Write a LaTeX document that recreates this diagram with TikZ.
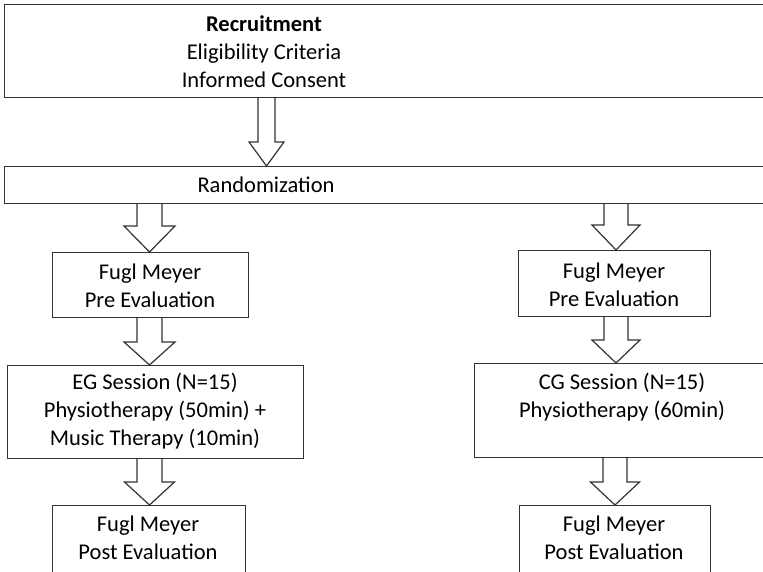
\documentclass[tikz,border=0pt]{standalone}
\usepackage{fontspec}
\setmainfont{Carlito}
\usetikzlibrary{calc}
\tikzset{
  box/.style={draw=black!80, line width=1.2pt, inner sep=0pt, anchor=north west},
  txt/.style={align=center, font=\fontsize{22.5}{28}\selectfont, inner sep=0pt, text=black},
  blockline/.style={draw=black!80, line width=1.2pt, fill=white, line join=miter}
}
% start coord, tip coord, shaft half width, head half width, head length
\newcommand{\blockarr}[5]{%
  \draw[blockline] let \p1=(#1), \p2=(#2) in
    (\x1-#3pt,\y1) -- (\x1-#3pt,\y2+#5pt) -- (\x1-#4pt,\y2+#5pt) -- (\x1,\y2)
    -- (\x1+#4pt,\y2+#5pt) -- (\x1+#3pt,\y2+#5pt) -- (\x1+#3pt,\y1);}
\begin{document}
\begin{tikzpicture}[x=1pt,y=-1pt]
\clip (0,0) rectangle (763,571);
\fill[white] (0,0) rectangle (763,571);
% boxes
\node[box, minimum width=820pt, minimum height=93pt] (rec) at (4,4) {};
\node[txt] (rectxt) at (264,52) {\textbf{Recruitment}\\Eligibility Criteria\\Informed Consent};
\node[box, minimum width=820pt, minimum height=37pt] (rand) at (4,166) {};
\node[txt] (randtxt) at (266,185) {Randomization};
\node[box, minimum width=196pt, minimum height=65pt] (preL) at (52,252) {};
\node[txt] (preLtxt) at (150,286) {Fugl Meyer\\Pre Evaluation};
\node[box, minimum width=192pt, minimum height=66pt] (preR) at (518,250) {};
\node[txt] (preRtxt) at (614,285) {Fugl Meyer\\Pre Evaluation};
\node[box, minimum width=296pt, minimum height=93pt] (eg) at (7,365) {};
\node[txt] (egtxt) at (155,411) {EG Session (N=15)\\Physiotherapy (50min) +\\Music Therapy (10min)};
\node[box, minimum width=300pt, minimum height=94pt] (cg) at (474,363) {};
\node[txt] (cgtxt) at (622,397) {CG Session (N=15)\\Physiotherapy (60min)};
\node[box, minimum width=193pt, minimum height=80pt] (postL) at (52,505) {};
\node[txt] (postLtxt) at (148,538) {Fugl Meyer\\Post Evaluation};
\node[box, minimum width=191pt, minimum height=80pt] (postR) at (519,505) {};
\node[txt] (postRtxt) at (614,538) {Fugl Meyer\\Post Evaluation};
% arrow anchor points
\coordinate (a1s) at (266.5,0 |- rec.south);
\coordinate (a1t) at (266.5,0 |- rand.north);
\coordinate (a2s) at (149.5,0 |- rand.south);
\coordinate (a2t) at (149.5,0 |- preL.north);
\coordinate (a3s) at (616,0 |- rand.south);
\coordinate (a3t) at (616,0 |- preR.north);
\coordinate (a4s) at (149.5,0 |- preL.south);
\coordinate (a4t) at (149.5,0 |- eg.north);
\coordinate (a5s) at (616,0 |- preR.south);
\coordinate (a5t) at (616,0 |- cg.north);
\coordinate (a6s) at (149.5,0 |- eg.south);
\coordinate (a6t) at (149.5,0 |- postL.north);
\coordinate (a7s) at (615,0 |- cg.south);
\coordinate (a7t) at (615,0 |- postR.north);
% block arrows
\blockarr{a1s}{a1t}{8.5}{17.5}{24}
\blockarr{a2s}{a2t}{12.5}{25.5}{26}
\blockarr{a3s}{a3t}{12}{24}{25}
\blockarr{a4s}{a4t}{12.5}{25.5}{23}
\blockarr{a5s}{a5t}{12}{24}{23}
\blockarr{a6s}{a6t}{12.5}{25}{23}
\blockarr{a7s}{a7t}{12}{24.5}{23}
\end{tikzpicture}
\end{document}
